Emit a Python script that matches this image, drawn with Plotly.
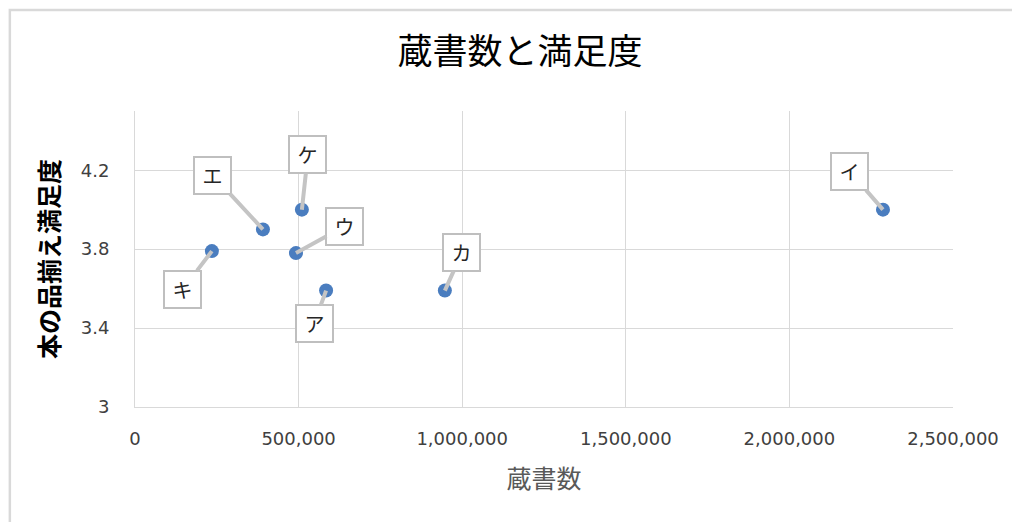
import plotly.graph_objects as go

# Data
labels = ["ア", "イ", "ウ", "エ", "カ", "キ", "ケ"]
books = [584000, 2286000, 492000, 391000, 947000, 235000, 510000]
satisfaction = [3.59, 4.0, 3.78, 3.9, 3.59, 3.79, 4.0]
# callout offsets (pixels) of label boxes relative to points
label_dx = [-12, -33, 49, -50, 17, -29, 6]
label_dy = [33, -38, -27, -54, -38, 38, -55]

x_ticks = [0, 500000, 1000000, 1500000, 2000000, 2500000]
x_ticktext = ["0", "500,000", "1,000,000", "1,500,000", "2,000,000", "2,500,000"]
y_ticks = [3, 3.4, 3.8, 4.2]
y_ticktext = ["3", "3.4", "3.8", "4.2"]

fig = go.Figure()
fig.add_trace(go.Scatter(
    x=books, y=satisfaction, mode="markers",
    marker=dict(size=14, color="#4a7dbf"),
    hoverinfo="x+y", showlegend=False,
))

for lab, xv, yv, dx, dy in zip(labels, books, satisfaction, label_dx, label_dy):
    fig.add_annotation(
        x=xv, y=yv, xref="x", yref="y", text=lab,
        showarrow=True, ax=dx, ay=dy, axref="pixel", ayref="pixel",
        arrowhead=0, arrowwidth=4, arrowcolor="#c4c4c4", standoff=0,
        bgcolor="white", bordercolor="#bfbfbf", borderwidth=2, borderpad=1,
        width=33, height=33,
        font=dict(family="Noto Sans CJK JP", size=20, color="#262626"),
    )

grid = "#d9d9d9"
fig.update_layout(
    width=1020, height=522,
    margin=dict(l=127, r=75, t=103, b=123),
    paper_bgcolor="white", plot_bgcolor="white",
    title=dict(text="蔵書数と満足度", x=(520 - 8) / 1020, xanchor="center",
               y=1 - 44 / 522, yanchor="middle", yref="container",
               font=dict(family="Noto Sans CJK JP", size=35, color="#000000")),
    xaxis=dict(
        range=[0, 2500000], tickvals=x_ticks, ticktext=x_ticktext,
        showgrid=True, gridcolor=grid, gridwidth=1,
        showline=True, linecolor=grid, linewidth=1, zeroline=False,
        ticks="", ticklabelstandoff=15,
        tickfont=dict(family="DejaVu Sans", size=18, color="#404040"),
        title=dict(text="蔵書数", standoff=22,
                   font=dict(family="Noto Sans CJK JP", size=25, color="#595959")),
    ),
    yaxis=dict(
        range=[3, 4.5], tickvals=y_ticks, ticktext=y_ticktext,
        showgrid=True, gridcolor=grid, gridwidth=1,
        showline=True, linecolor=grid, linewidth=1, zeroline=False,
        ticks="", ticklabelstandoff=21,
        tickfont=dict(family="DejaVu Sans", size=18, color="#404040"),
        title=dict(text="<b>本の品揃え満足度</b>", standoff=14,
                   font=dict(family="Noto Sans CJK JP", size=25, color="#000000")),
    ),
    shapes=[dict(type="rect", xref="paper", yref="paper",
                 x0=-0.153, x1=1.3, y0=-0.6, y1=1.341,
                 line=dict(color="#d9d9d9", width=2.5), layer="below")],
)

fig.write_html("out.html")
